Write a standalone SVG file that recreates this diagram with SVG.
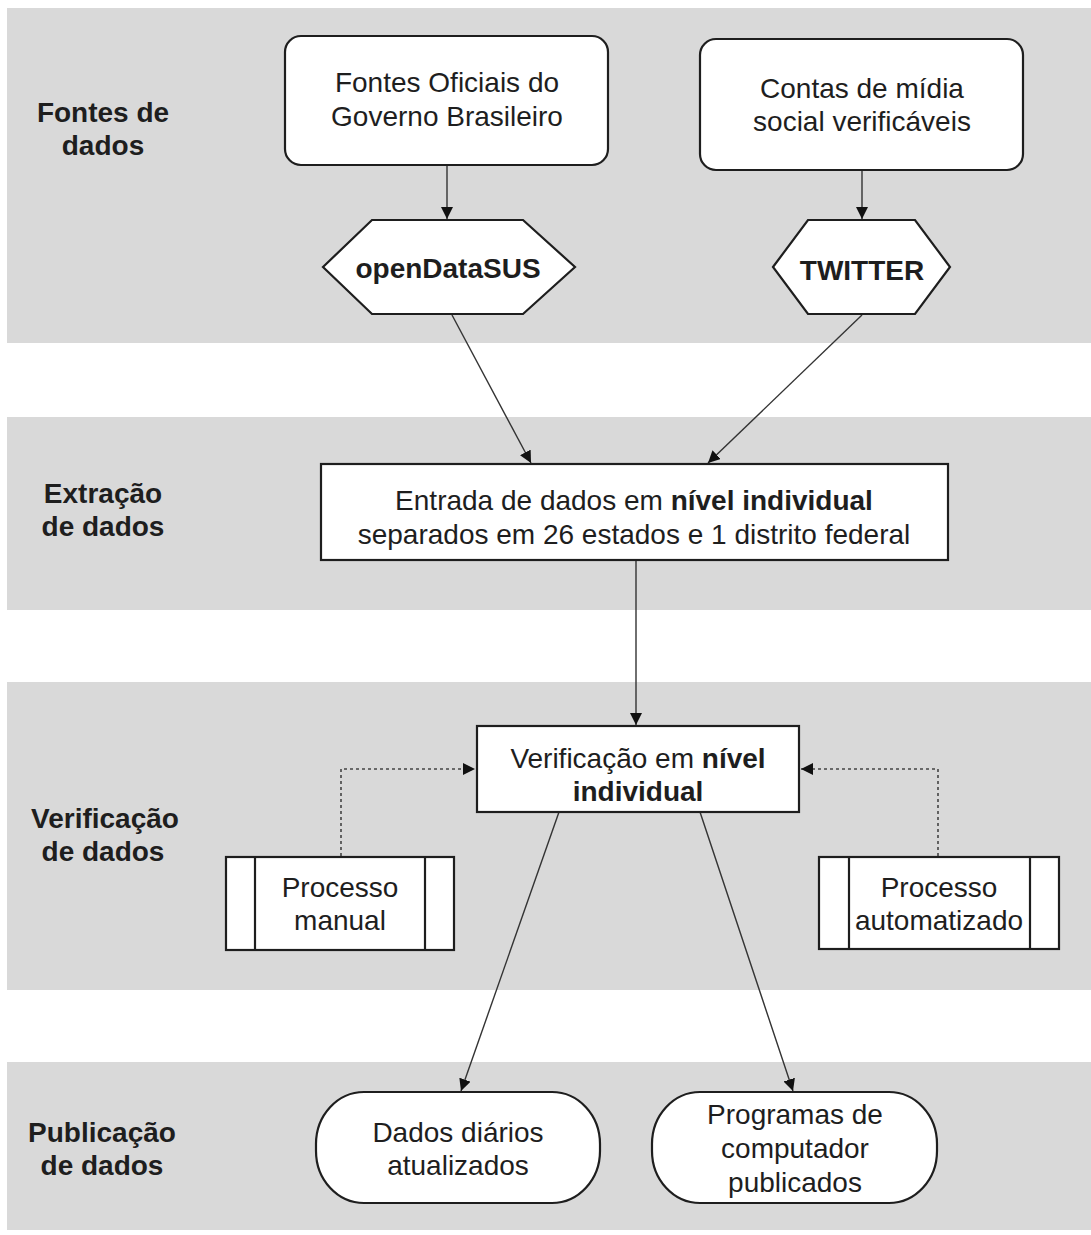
<svg xmlns="http://www.w3.org/2000/svg" width="1091" height="1235" viewBox="0 0 1091 1235">
<defs>
<style>
.band{fill:#d9d9d9}
.box{fill:#ffffff;stroke:#1e1e1e;stroke-width:2.2}
.t{font-family:"Liberation Sans",Arial,sans-serif;font-size:28px;fill:#1e1e1e;text-anchor:middle}
.b{font-weight:bold}
.lbl{font-family:"Liberation Sans",Arial,sans-serif;font-size:28px;font-weight:bold;fill:#1e1e1e;text-anchor:middle}
.con{stroke:#333333;stroke-width:1.4;fill:none}
.dot{stroke:#444444;stroke-width:1.6;fill:none;stroke-dasharray:3,3}
</style>
<marker id="ah" viewBox="0 0 10 10" refX="10" refY="5" markerWidth="12" markerHeight="12" markerUnits="userSpaceOnUse" orient="auto">
<path d="M0,0 L10,5 L0,10 z" fill="#111111"/>
</marker>
</defs>
<rect width="1091" height="1235" fill="#ffffff"/>
<g id="bands">
<rect class="band" x="7" y="8" width="1084" height="335"/>
<rect class="band" x="7" y="417" width="1084" height="193"/>
<rect class="band" x="7" y="682" width="1084" height="308"/>
<rect class="band" x="7" y="1062" width="1084" height="168"/>
</g>
<g id="lane-labels">
<text class="lbl" x="103" y="122">Fontes de</text>
<text class="lbl" x="103" y="155">dados</text>
<text class="lbl" x="103" y="503">Extração</text>
<text class="lbl" x="103" y="536">de dados</text>
<text class="lbl" x="105" y="828">Verificação</text>
<text class="lbl" x="103" y="861">de dados</text>
<text class="lbl" x="102" y="1142">Publicação</text>
<text class="lbl" x="102" y="1175">de dados</text>
</g>
<g id="connectors">
<line class="con" x1="447" y1="166" x2="447" y2="219" marker-end="url(#ah)"/>
<line class="con" x1="862" y1="171" x2="862" y2="219" marker-end="url(#ah)"/>
<line class="con" x1="452" y1="315" x2="531" y2="463" marker-end="url(#ah)"/>
<line class="con" x1="862" y1="315" x2="708" y2="463" marker-end="url(#ah)"/>
<line class="con" x1="636" y1="561" x2="636" y2="725" marker-end="url(#ah)"/>
<polyline class="dot" points="341,856 341,769 475,769" marker-end="url(#ah)"/>
<polyline class="dot" points="938,856 938,769 801,769" marker-end="url(#ah)"/>
<line class="con" x1="559" y1="812" x2="461" y2="1091" marker-end="url(#ah)"/>
<line class="con" x1="700" y1="812" x2="793" y2="1091" marker-end="url(#ah)"/>
</g>
<g id="fontes-oficiais">
<rect class="box" x="285" y="36" width="323" height="129" rx="16" ry="16"/>
<text class="t" x="447" y="92">Fontes Oficiais do</text>
<text class="t" x="447" y="126">Governo Brasileiro</text>
</g>
<g id="contas-midia">
<rect class="box" x="700" y="39" width="323" height="131" rx="16" ry="16"/>
<text class="t" x="862" y="98">Contas de mídia</text>
<text class="t" x="862" y="131">social verificáveis</text>
</g>
<g id="opendatasus">
<polygon class="box" points="323,267 372,220 523,220 575,267 523,314 372,314"/>
<text class="t b" x="448" y="278">openDataSUS</text>
</g>
<g id="twitter">
<polygon class="box" points="773,267 808,220 915,220 950,267 915,314 808,314"/>
<text class="t b" x="862" y="280">TWITTER</text>
</g>
<g id="entrada">
<rect class="box" x="321" y="464" width="627" height="96"/>
<text class="t" x="634" y="510">Entrada de dados em <tspan class="b">nível individual</tspan></text>
<text class="t" x="634" y="544">separados em 26 estados e 1 distrito federal</text>
</g>
<g id="verificacao">
<rect class="box" x="477" y="726" width="322" height="86"/>
<text class="t" x="638" y="768">Verificação em <tspan class="b">nível</tspan></text>
<text class="t b" x="638" y="801">individual</text>
</g>
<g id="processo-manual">
<rect class="box" x="226" y="857" width="228" height="93"/>
<line class="box" x1="255" y1="857" x2="255" y2="950"/>
<line class="box" x1="425" y1="857" x2="425" y2="950"/>
<text class="t" x="340" y="897">Processo</text>
<text class="t" x="340" y="930">manual</text>
</g>
<g id="processo-automatizado">
<rect class="box" x="819" y="857" width="240" height="92"/>
<line class="box" x1="849" y1="857" x2="849" y2="949"/>
<line class="box" x1="1030" y1="857" x2="1030" y2="949"/>
<text class="t" x="939" y="897">Processo</text>
<text class="t" x="939" y="930">automatizado</text>
</g>
<g id="dados-diarios">
<rect class="box" x="316" y="1092" width="284" height="111" rx="48" ry="52"/>
<text class="t" x="458" y="1142">Dados diários</text>
<text class="t" x="458" y="1175">atualizados</text>
</g>
<g id="programas">
<rect class="box" x="652" y="1092" width="285" height="111" rx="48" ry="52"/>
<text class="t" x="795" y="1124">Programas de</text>
<text class="t" x="795" y="1158">computador</text>
<text class="t" x="795" y="1192">publicados</text>
</g>
</svg>
